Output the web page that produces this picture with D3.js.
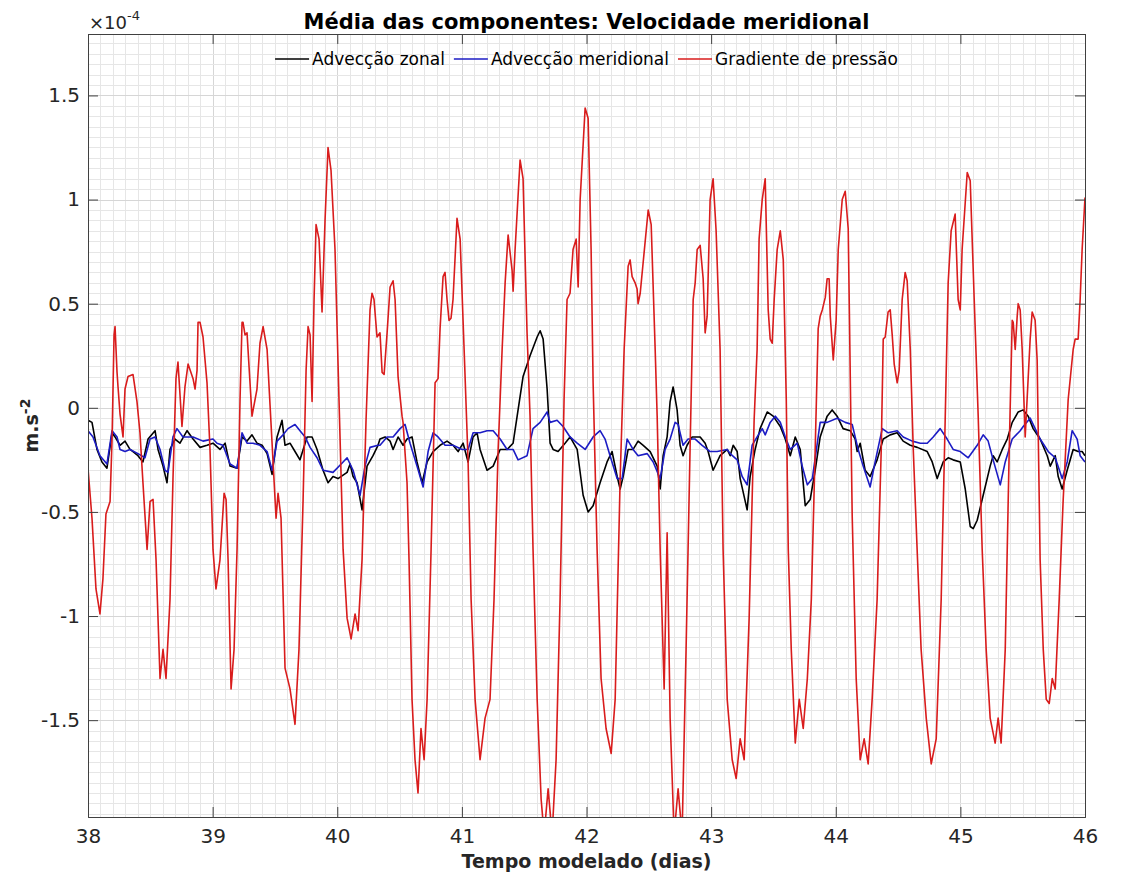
<!DOCTYPE html>
<html>
<head>
<meta charset="utf-8">
<script src="https://cdn.jsdelivr.net/npm/d3@7"></script>
<style>
body { margin: 0; background: #fff; }
svg text { font-family: "DejaVu Sans", sans-serif; fill: #262626; }
</style>
</head>
<body>
<div id="chart"></div>
<script>
// tempo (dias), valor em 1e-4 m.s^-2
var advZonal = [[38.000,-0.06],[38.032,-0.07],[38.072,-0.20],[38.112,-0.26],[38.152,-0.29],[38.193,-0.12],[38.217,-0.14],[38.257,-0.18],[38.297,-0.16],[38.337,-0.20],[38.361,-0.21],[38.401,-0.23],[38.441,-0.26],[38.482,-0.15],[38.538,-0.11],[38.562,-0.20],[38.602,-0.28],[38.634,-0.36],[38.658,-0.20],[38.698,-0.15],[38.738,-0.17],[38.795,-0.11],[38.843,-0.15],[38.899,-0.19],[38.955,-0.18],[39.003,-0.17],[39.059,-0.20],[39.100,-0.17],[39.140,-0.28],[39.196,-0.29],[39.236,-0.14],[39.276,-0.16],[39.316,-0.13],[39.356,-0.17],[39.397,-0.18],[39.437,-0.22],[39.477,-0.32],[39.517,-0.14],[39.557,-0.06],[39.581,-0.18],[39.621,-0.17],[39.661,-0.21],[39.701,-0.25],[39.758,-0.14],[39.798,-0.14],[39.838,-0.20],[39.886,-0.30],[39.926,-0.36],[39.966,-0.33],[40.006,-0.34],[40.079,-0.31],[40.103,-0.27],[40.127,-0.33],[40.159,-0.36],[40.199,-0.49],[40.239,-0.28],[40.287,-0.23],[40.327,-0.18],[40.343,-0.15],[40.384,-0.14],[40.424,-0.16],[40.448,-0.20],[40.488,-0.14],[40.528,-0.18],[40.560,-0.15],[40.600,-0.14],[40.640,-0.26],[40.681,-0.36],[40.721,-0.26],[40.769,-0.21],[40.825,-0.18],[40.881,-0.16],[40.929,-0.18],[40.970,-0.21],[41.010,-0.17],[41.050,-0.26],[41.090,-0.14],[41.122,-0.12],[41.146,-0.20],[41.202,-0.30],[41.251,-0.28],[41.307,-0.20],[41.363,-0.20],[41.411,-0.17],[41.451,-0.01],[41.491,0.15],[41.547,0.25],[41.604,0.34],[41.628,0.37],[41.652,0.33],[41.684,0.09],[41.708,-0.17],[41.732,-0.20],[41.772,-0.21],[41.828,-0.17],[41.868,-0.14],[41.925,-0.20],[41.973,-0.42],[42.013,-0.50],[42.053,-0.47],[42.109,-0.36],[42.165,-0.26],[42.205,-0.21],[42.246,-0.33],[42.270,-0.39],[42.294,-0.33],[42.334,-0.20],[42.374,-0.20],[42.414,-0.16],[42.455,-0.18],[42.511,-0.21],[42.567,-0.28],[42.591,-0.39],[42.615,-0.23],[42.647,-0.14],[42.671,0.03],[42.695,0.10],[42.727,-0.01],[42.751,-0.18],[42.775,-0.23],[42.807,-0.18],[42.848,-0.14],[42.912,-0.14],[42.952,-0.17],[42.976,-0.21],[43.016,-0.30],[43.072,-0.23],[43.129,-0.20],[43.153,-0.23],[43.177,-0.18],[43.209,-0.21],[43.233,-0.34],[43.289,-0.49],[43.313,-0.33],[43.353,-0.20],[43.393,-0.10],[43.450,-0.02],[43.498,-0.04],[43.555,-0.09],[43.595,-0.15],[43.635,-0.23],[43.675,-0.14],[43.715,-0.20],[43.755,-0.47],[43.795,-0.44],[43.835,-0.30],[43.875,-0.14],[43.931,-0.04],[43.971,-0.01],[44.011,-0.04],[44.059,-0.10],[44.116,-0.11],[44.156,-0.15],[44.172,-0.21],[44.196,-0.17],[44.236,-0.30],[44.276,-0.33],[44.332,-0.25],[44.381,-0.15],[44.437,-0.13],[44.493,-0.12],[44.541,-0.16],[44.598,-0.18],[44.654,-0.19],[44.734,-0.21],[44.774,-0.26],[44.814,-0.34],[44.862,-0.26],[44.902,-0.24],[44.942,-0.25],[44.999,-0.26],[45.039,-0.39],[45.079,-0.57],[45.103,-0.58],[45.135,-0.54],[45.183,-0.42],[45.239,-0.28],[45.263,-0.23],[45.295,-0.26],[45.336,-0.20],[45.376,-0.15],[45.416,-0.07],[45.464,-0.02],[45.504,-0.01],[45.544,-0.04],[45.584,-0.10],[45.640,-0.15],[45.697,-0.23],[45.721,-0.28],[45.761,-0.23],[45.785,-0.33],[45.817,-0.39],[45.857,-0.30],[45.905,-0.20],[45.945,-0.21],[45.977,-0.21],[46.000,-0.23]]

var advMeridional = [[38.000,-0.11],[38.040,-0.14],[38.096,-0.23],[38.152,-0.27],[38.193,-0.11],[38.233,-0.14],[38.257,-0.20],[38.297,-0.21],[38.337,-0.20],[38.401,-0.22],[38.457,-0.24],[38.498,-0.15],[38.538,-0.14],[38.578,-0.20],[38.618,-0.30],[38.642,-0.31],[38.682,-0.14],[38.714,-0.10],[38.762,-0.14],[38.843,-0.14],[38.923,-0.16],[39.003,-0.15],[39.035,-0.17],[39.083,-0.18],[39.140,-0.27],[39.196,-0.29],[39.236,-0.12],[39.276,-0.17],[39.324,-0.17],[39.380,-0.18],[39.437,-0.21],[39.477,-0.30],[39.517,-0.16],[39.565,-0.13],[39.605,-0.10],[39.661,-0.08],[39.701,-0.11],[39.742,-0.14],[39.782,-0.19],[39.838,-0.24],[39.886,-0.30],[39.966,-0.31],[40.047,-0.26],[40.079,-0.24],[40.127,-0.30],[40.183,-0.42],[40.223,-0.28],[40.263,-0.19],[40.327,-0.18],[40.343,-0.18],[40.400,-0.14],[40.448,-0.14],[40.504,-0.10],[40.544,-0.08],[40.584,-0.17],[40.640,-0.28],[40.689,-0.38],[40.729,-0.21],[40.769,-0.12],[40.809,-0.14],[40.865,-0.18],[40.929,-0.18],[41.002,-0.20],[41.050,-0.20],[41.090,-0.12],[41.146,-0.12],[41.202,-0.11],[41.251,-0.11],[41.307,-0.15],[41.363,-0.20],[41.411,-0.20],[41.451,-0.25],[41.523,-0.23],[41.571,-0.10],[41.628,-0.07],[41.684,-0.02],[41.708,-0.07],[41.764,-0.06],[41.812,-0.09],[41.868,-0.14],[41.925,-0.17],[41.989,-0.20],[42.053,-0.14],[42.109,-0.11],[42.149,-0.15],[42.189,-0.23],[42.246,-0.34],[42.286,-0.34],[42.326,-0.15],[42.374,-0.20],[42.414,-0.23],[42.487,-0.22],[42.535,-0.26],[42.591,-0.34],[42.631,-0.20],[42.671,-0.15],[42.711,-0.07],[42.735,-0.08],[42.775,-0.18],[42.815,-0.15],[42.872,-0.15],[42.928,-0.18],[42.992,-0.21],[43.048,-0.21],[43.129,-0.20],[43.153,-0.22],[43.209,-0.25],[43.249,-0.33],[43.289,-0.37],[43.329,-0.18],[43.369,-0.14],[43.410,-0.10],[43.434,-0.13],[43.474,-0.07],[43.514,-0.04],[43.555,-0.07],[43.595,-0.14],[43.635,-0.20],[43.691,-0.17],[43.731,-0.28],[43.772,-0.37],[43.812,-0.34],[43.852,-0.17],[43.875,-0.07],[43.931,-0.07],[44.011,-0.05],[44.076,-0.07],[44.132,-0.08],[44.180,-0.20],[44.220,-0.28],[44.276,-0.38],[44.316,-0.26],[44.373,-0.10],[44.421,-0.12],[44.493,-0.11],[44.541,-0.14],[44.614,-0.16],[44.678,-0.17],[44.734,-0.17],[44.782,-0.14],[44.838,-0.10],[44.894,-0.15],[44.942,-0.20],[44.999,-0.21],[45.063,-0.24],[45.135,-0.18],[45.183,-0.13],[45.223,-0.16],[45.263,-0.25],[45.320,-0.37],[45.360,-0.26],[45.416,-0.15],[45.480,-0.11],[45.504,-0.09],[45.560,-0.05],[45.600,-0.10],[45.640,-0.15],[45.705,-0.21],[45.761,-0.24],[45.817,-0.34],[45.857,-0.26],[45.897,-0.11],[45.937,-0.15],[45.961,-0.23],[46.000,-0.26]]

var gradPressao = [[38.000,-0.29],[38.032,-0.53],[38.064,-0.87],[38.096,-0.99],[38.120,-0.82],[38.144,-0.51],[38.177,-0.45],[38.193,-0.15],[38.209,0.35],[38.217,0.39],[38.233,0.17],[38.241,0.10],[38.257,-0.03],[38.281,-0.14],[38.297,0.09],[38.321,0.15],[38.361,0.16],[38.393,0.03],[38.417,-0.12],[38.441,-0.36],[38.474,-0.68],[38.498,-0.45],[38.522,-0.44],[38.546,-0.73],[38.578,-1.30],[38.602,-1.16],[38.626,-1.30],[38.658,-0.92],[38.682,-0.34],[38.706,0.14],[38.722,0.22],[38.754,-0.09],[38.778,0.10],[38.803,0.21],[38.843,0.14],[38.859,0.09],[38.875,0.18],[38.883,0.41],[38.899,0.41],[38.923,0.34],[38.955,0.12],[38.979,-0.20],[39.003,-0.68],[39.027,-0.87],[39.059,-0.73],[39.092,-0.41],[39.108,-0.44],[39.124,-0.73],[39.148,-1.35],[39.172,-1.16],[39.196,-0.68],[39.220,0.04],[39.236,0.41],[39.244,0.41],[39.260,0.35],[39.276,0.36],[39.300,0.12],[39.316,-0.04],[39.356,0.09],[39.380,0.31],[39.405,0.39],[39.437,0.28],[39.461,0.01],[39.485,-0.26],[39.509,-0.53],[39.525,-0.41],[39.549,-0.53],[39.581,-1.25],[39.621,-1.35],[39.661,-1.52],[39.693,-1.16],[39.726,-0.44],[39.750,0.18],[39.766,0.39],[39.782,0.35],[39.798,0.03],[39.814,0.52],[39.830,0.88],[39.854,0.81],[39.878,0.46],[39.902,0.90],[39.926,1.25],[39.950,1.14],[39.982,0.76],[40.014,0.04],[40.047,-0.68],[40.079,-1.01],[40.111,-1.11],[40.143,-0.99],[40.167,-1.07],[40.199,-0.73],[40.231,-0.06],[40.263,0.47],[40.279,0.55],[40.295,0.52],[40.319,0.34],[40.343,0.36],[40.360,0.17],[40.376,0.16],[40.400,0.36],[40.424,0.58],[40.448,0.61],[40.464,0.52],[40.488,0.15],[40.520,-0.04],[40.528,-0.07],[40.560,-0.36],[40.576,-0.73],[40.600,-1.40],[40.624,-1.69],[40.648,-1.85],[40.672,-1.54],[40.697,-1.69],[40.721,-1.40],[40.753,-0.68],[40.785,0.12],[40.809,0.14],[40.825,0.38],[40.849,0.63],[40.865,0.65],[40.881,0.52],[40.897,0.42],[40.913,0.43],[40.929,0.52],[40.961,0.91],[40.986,0.81],[41.018,0.28],[41.050,-0.26],[41.074,-0.92],[41.106,-1.40],[41.146,-1.69],[41.186,-1.49],[41.226,-1.40],[41.258,-0.92],[41.291,-0.20],[41.323,0.28],[41.347,0.60],[41.371,0.83],[41.403,0.66],[41.411,0.56],[41.427,0.76],[41.467,1.19],[41.491,1.10],[41.523,0.36],[41.547,-0.04],[41.571,-0.68],[41.604,-1.40],[41.636,-1.88],[41.660,-2.05],[41.692,-1.83],[41.724,-2.05],[41.756,-1.69],[41.788,-0.92],[41.820,0.04],[41.844,0.52],[41.868,0.55],[41.892,0.76],[41.917,0.81],[41.933,0.58],[41.949,1.00],[41.989,1.44],[42.013,1.39],[42.037,0.76],[42.053,0.12],[42.085,-0.68],[42.117,-1.30],[42.157,-1.54],[42.198,-1.66],[42.230,-1.40],[42.270,-0.34],[42.302,0.28],[42.334,0.68],[42.350,0.71],[42.366,0.63],[42.390,0.60],[42.406,0.57],[42.414,0.50],[42.431,0.55],[42.455,0.70],[42.495,0.95],[42.519,0.88],[42.551,0.28],[42.567,-0.04],[42.591,-0.68],[42.623,-1.35],[42.647,-0.60],[42.671,-1.49],[42.703,-2.05],[42.735,-1.83],[42.767,-2.05],[42.799,-1.16],[42.831,-0.20],[42.856,0.52],[42.872,0.60],[42.888,0.76],[42.912,0.78],[42.936,0.62],[42.952,0.36],[42.968,0.44],[42.992,1.00],[43.016,1.10],[43.040,0.85],[43.072,0.28],[43.096,-0.68],[43.129,-1.40],[43.169,-1.69],[43.201,-1.78],[43.233,-1.59],[43.265,-1.69],[43.305,-1.01],[43.345,-0.06],[43.369,0.28],[43.385,0.81],[43.410,1.00],[43.434,1.10],[43.458,0.47],[43.474,0.33],[43.490,0.31],[43.506,0.52],[43.530,0.76],[43.555,0.85],[43.579,0.71],[43.603,0.04],[43.619,-0.68],[43.643,-1.16],[43.675,-1.61],[43.707,-1.40],[43.739,-1.54],[43.772,-1.30],[43.804,-0.92],[43.835,-0.20],[43.859,0.38],[43.875,0.44],[43.892,0.47],[43.916,0.53],[43.931,0.62],[43.947,0.62],[43.956,0.44],[43.980,0.23],[44.003,0.42],[44.020,0.76],[44.052,1.00],[44.076,1.04],[44.100,0.86],[44.132,-0.52],[44.164,-1.30],[44.196,-1.69],[44.228,-1.59],[44.260,-1.71],[44.292,-1.40],[44.332,-0.92],[44.365,-0.20],[44.381,0.33],[44.397,0.34],[44.420,0.46],[44.437,0.47],[44.453,0.35],[44.469,0.21],[44.493,0.12],[44.509,0.18],[44.533,0.52],[44.557,0.65],[44.573,0.61],[44.598,0.28],[44.622,-0.20],[44.653,-0.68],[44.685,-1.16],[44.726,-1.49],[44.766,-1.71],[44.806,-1.59],[44.846,-0.92],[44.878,-0.06],[44.902,0.60],[44.926,0.85],[44.958,0.93],[44.982,0.52],[44.999,0.47],[45.014,0.76],[45.055,1.13],[45.079,1.09],[45.111,0.52],[45.143,-0.04],[45.175,-0.68],[45.207,-1.16],[45.239,-1.49],[45.279,-1.61],[45.303,-1.49],[45.327,-1.61],[45.360,-1.16],[45.392,-0.20],[45.416,0.42],[45.424,0.41],[45.440,0.28],[45.456,0.44],[45.464,0.50],[45.480,0.47],[45.496,0.28],[45.520,-0.14],[45.560,0.33],[45.576,0.46],[45.600,0.42],[45.616,0.23],[45.640,-0.73],[45.665,-1.16],[45.689,-1.40],[45.713,-1.42],[45.737,-1.30],[45.761,-1.35],[45.793,-0.92],[45.825,-0.44],[45.865,0.04],[45.905,0.28],[45.921,0.33],[45.945,0.33],[45.961,0.52],[45.977,0.76],[46.000,1.01]]

var seriesNames = ['Advecção zonal', 'Advecção meridional', 'Gradiente de pressão']
var seriesColors = ['#000000', '#1c1cc4', '#d91c1c']
var xTicks = [38, 39, 40, 41, 42, 43, 44, 45, 46]
var yTicks = [-1.5, -1, -0.5, 0, 0.5, 1, 1.5]
var yTickLabels = ['-1.5', '-1', '-0.5', '0', '0.5', '1', '1.5']

var W = 1124, H = 876
var plot = { left: 88, right: 1085, top: 34, bottom: 817 }

var svg = d3.select('#chart').append('svg').attr('width', W).attr('height', H)

var x = d3.scaleLinear().domain([38, 46]).range([plot.left, plot.right])
var y = d3.scaleLinear().domain([-1.965, 1.795]).range([plot.bottom, plot.top])

// grade menor e maior
var grid = svg.append('g')
var xMinor = d3.range(381, 460).map(function(i) { return i / 10 })
var yMinor = d3.range(-39, 36).map(function(i) { return i * 0.05 })
grid.selectAll('.xm').data(xMinor).enter().append('line')
	.attr('x1', function(d) { return Math.round(x(d)) + 0.5 }).attr('x2', function(d) { return Math.round(x(d)) + 0.5 })
	.attr('y1', plot.top).attr('y2', plot.bottom)
	.style('stroke', function(d) { return Math.abs(d - Math.round(d)) < 1e-6 ? '#d6d6d6' : '#e6e6e6' })
grid.selectAll('.ym').data(yMinor).enter().append('line')
	.attr('y1', function(d) { return Math.round(y(d)) + 0.5 }).attr('y2', function(d) { return Math.round(y(d)) + 0.5 })
	.attr('x1', plot.left).attr('x2', plot.right)
	.style('stroke', function(d) { return Math.abs(d * 2 - Math.round(d * 2)) < 1e-6 ? '#d6d6d6' : '#e6e6e6' })

// linhas
svg.append('clipPath').attr('id', 'clip').append('rect')
	.attr('x', plot.left).attr('y', plot.top)
	.attr('width', plot.right - plot.left).attr('height', plot.bottom - plot.top)

var line = d3.line().x(function(d) { return x(d[0]) }).y(function(d) { return y(d[1]) })
var lines = svg.append('g').attr('clip-path', 'url(#clip)')
;[advZonal, advMeridional, gradPressao].forEach(function(s, i) {
	lines.append('path').datum(s).attr('d', line)
		.style('fill', 'none').style('stroke', seriesColors[i])
		.style('stroke-width', 1.6).style('stroke-linejoin', 'round')
})

// eixos (ticks para dentro, nos quatro lados)
var tickLen = 10
var axisColor = '#404040'
svg.append('g').attr('transform', 'translate(0,' + plot.bottom + ')')
	.call(d3.axisBottom(x).tickValues(xTicks).tickSize(-tickLen).tickPadding(12).tickFormat(d3.format('d')))
svg.append('g').attr('transform', 'translate(0,' + plot.top + ')')
	.call(d3.axisTop(x).tickValues(xTicks).tickSize(-tickLen).tickFormat(''))
svg.append('g').attr('transform', 'translate(' + plot.left + ',0)')
	.call(d3.axisLeft(y).tickValues(yTicks).tickSize(-tickLen).tickPadding(8)
		.tickFormat(function(d, i) { return yTickLabels[i] }))
svg.append('g').attr('transform', 'translate(' + plot.right + ',0)')
	.call(d3.axisRight(y).tickValues(yTicks).tickSize(-tickLen).tickFormat(''))

svg.selectAll('.domain').style('stroke', axisColor)
svg.selectAll('.tick line').style('stroke', axisColor)
svg.selectAll('.tick text').style('font-size', '20px').style('fill', '#262626')
	.style('font-family', '"DejaVu Sans", sans-serif')

// título e rótulos
svg.append('text').attr('x', (plot.left + plot.right) / 2).attr('y', 29)
	.attr('text-anchor', 'middle').style('font-size', '21px').style('font-weight', 'bold').style('fill', '#000')
	.text('Média das componentes: Velocidade meridional')

svg.append('text').attr('x', (plot.left + plot.right) / 2).attr('y', 868)
	.attr('text-anchor', 'middle').style('font-size', '19px').style('font-weight', 'bold').style('fill', '#262626')
	.text('Tempo modelado (dias)')

var ylab = svg.append('text').attr('transform', 'translate(38,' + (plot.top + plot.bottom) / 2 + ') rotate(-90)')
	.attr('text-anchor', 'middle').style('font-size', '19px').style('font-weight', 'bold').style('fill', '#262626')
ylab.append('tspan').text('m.s')
ylab.append('tspan').attr('dy', -8).style('font-size', '14px').text('-2')

var mult = svg.append('text').attr('x', plot.left + 1).attr('y', 29).style('font-size', '18px').style('fill', '#262626')
mult.append('tspan').text('×10')
mult.append('tspan').attr('dy', -9).style('font-size', '13px').text('-4')

// legenda horizontal sem caixa
var legend = svg.append('g')
var lx = 0, legY = 59
var items = seriesNames.map(function(name, i) {
	var g = legend.append('g')
	g.append('line').attr('x1', 0).attr('x2', 34).attr('y1', legY).attr('y2', legY)
		.style('stroke', seriesColors[i]).style('stroke-width', 1.4)
	var t = g.append('text').attr('x', 37).attr('y', legY).attr('dy', '0.35em')
		.style('font-size', '17px').style('fill', '#000').text(name)
	var w = 37 + t.node().getComputedTextLength()
	g.attr('transform', 'translate(' + lx + ',0)')
	lx += w + 9
	return g
})
var legW = lx - 9
legend.attr('transform', 'translate(' + ((plot.left + plot.right) / 2 - legW / 2) + ',0)')
</script>
</body>
</html>
